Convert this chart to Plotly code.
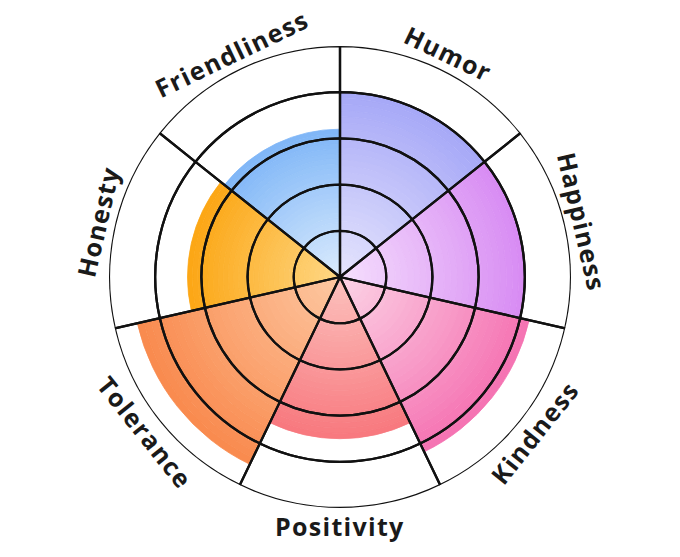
import math
import plotly.graph_objects as go

categories = ["Humor", "Happiness", "Kindness", "Positivity", "Tolerance", "Honesty", "Friendliness"]
values = [4.0, 4.0, 4.2, 3.5, 4.5, 3.3, 3.2]
inner_colors = ["#e6e5fd", "#f6e0fd", "#fcd4e6", "#fcc2be", "#fdc8a2", "#fed886", "#dcecfd"]
outer_colors = ["#a6a8f7", "#d78bf3", "#f572b2", "#f8787e", "#f98a4e", "#fca614", "#7fb6f7"]
rings = [1, 2, 3, 4, 5]

n = len(categories)
step = 360 / n
thetas = [(i + 0.5) * step for i in range(n)]
STEPS = 30


def hex2rgb(h):
    h = h.lstrip("#")
    return tuple(int(h[k:k + 2], 16) for k in (0, 2, 4))


def mix(c1, c2, t):
    a, b = hex2rgb(c1), hex2rgb(c2)
    return "rgb(%d,%d,%d)" % tuple(round(a[k] + (b[k] - a[k]) * t) for k in range(3))


fig = go.Figure()

for i, cat in enumerate(categories):
    v = values[i]
    cols = [mix(inner_colors[i], outer_colors[i], (k + 0.5) / STEPS) for k in range(STEPS)]
    fig.add_trace(go.Barpolar(
        theta=[thetas[i]] * STEPS,
        r=[v / STEPS] * STEPS,
        base=[v * k / STEPS for k in range(STEPS)],
        width=[step] * STEPS,
        marker=dict(color=cols, line=dict(color=cols, width=0.8)),
        name=cat,
        hoverinfo="skip",
        showlegend=False,
    ))

# grid drawn on top of the sectors
g_theta, g_base = [], []
for i in range(n):
    for rv in rings:
        g_theta.append(thetas[i])
        g_base.append(rv - 1)
fig.add_trace(go.Barpolar(
    theta=g_theta,
    r=[1] * len(g_theta),
    base=g_base,
    width=[step] * len(g_theta),
    marker=dict(color="rgba(0,0,0,0)", line=dict(color="#111111", width=2.3)),
    hoverinfo="skip",
    showlegend=False,
))

W, H = 680, 557
L, R, T, B = 109, 109, 46, 49
side = W - L - R
label_r = 249 / side

annotations = []
for i, cat in enumerate(categories):
    a = thetas[i]
    x = 0.5 + label_r * math.sin(math.radians(a))
    y = 0.5 + label_r * math.cos(math.radians(a))
    if a <= 90:
        ang = a
    elif a < 270:
        ang = a - 180
    else:
        ang = a - 360
    annotations.append(dict(
        x=x, y=y, xref="paper", yref="paper",
        text='<span style="letter-spacing:1.3px">%s</span>' % cat,
        showarrow=False, borderpad=0, borderwidth=0,
        textangle=ang, xanchor="center", yanchor="middle",
        font=dict(family="Open Sans", size=25, color="#1a1a1a", weight="bold"),
    ))

fig.update_layout(
    width=W, height=H,
    margin=dict(l=L, r=R, t=T, b=B),
    paper_bgcolor="white",
    hovermode=False,
    polar=dict(
        bgcolor="white",
        barmode="overlay",
        domain=dict(x=[0, 1], y=[0, 1]),
        radialaxis=dict(range=[0, 5], visible=False),
        angularaxis=dict(rotation=90, direction="clockwise", visible=False),
    ),
    annotations=annotations,
)

fig.write_html(
    "out.html",
    config={"displayModeBar": False},
    post_script="document.body.style.margin='0';document.body.style.padding='0';",
)
